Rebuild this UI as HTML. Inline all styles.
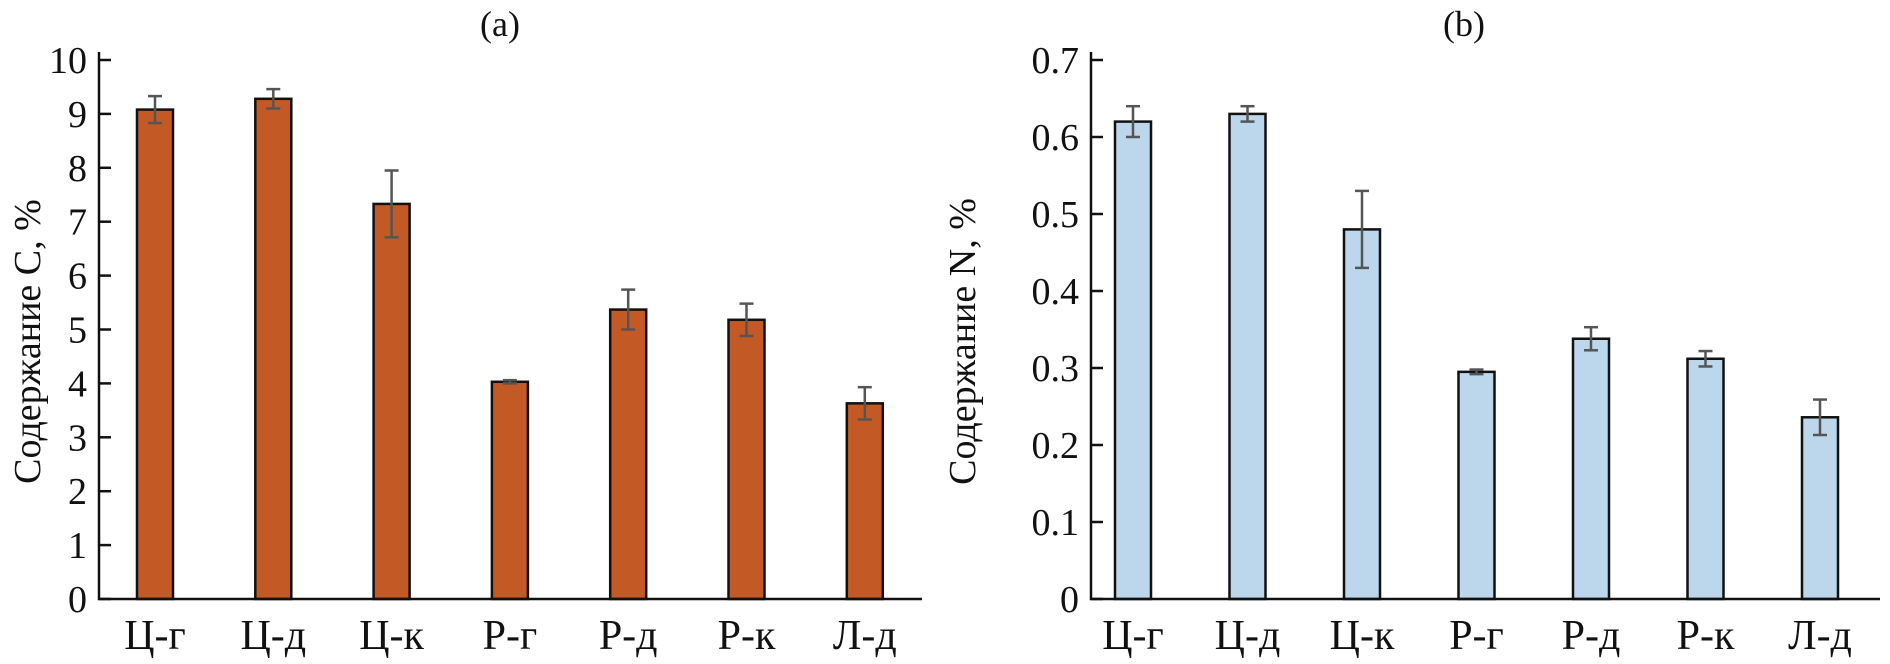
<!DOCTYPE html>
<html><head><meta charset="utf-8"><style>
body{margin:0;background:#fff;}
svg text{font-family:"Liberation Serif",serif;fill:#111;}
</style></head><body>
<svg id="c" width="1890" height="659" xmlns="http://www.w3.org/2000/svg"></svg>
<script>
const categories=["Ц-г","Ц-д","Ц-к","Р-г","Р-д","Р-к","Л-д"];
const carbonValues=[9.08,9.28,7.33,4.03,5.37,5.18,3.63];
const carbonErrors=[0.25,0.18,0.62,0.03,0.37,0.3,0.3];
const nitrogenValues=[0.62,0.63,0.48,0.295,0.338,0.312,0.236];
const nitrogenErrors=[0.02,0.01,0.05,0.003,0.015,0.01,0.023];
const carbonTicks=[0,1,2,3,4,5,6,7,8,9,10];
const nitrogenTicks=[0,0.1,0.2,0.3,0.4,0.5,0.6,0.7];
const NS="http://www.w3.org/2000/svg";
const svg=document.getElementById('c');
function mk(tag,attrs,parent){const e=document.createElementNS(NS,tag);for(const k in attrs)e.setAttribute(k,attrs[k]);(parent||svg).appendChild(e);return e;}
function panel(p){
  const g=mk('g',{});
  
  
  const y=v=>p.y0-(v/p.max)*(p.y0-p.yTop);
  const x=i=>p.c0+i*p.step;
  p.ticks.forEach(t=>{
    const l=mk('line',{x1:p.ax,x2:p.ax+12,y1:y(t),y2:y(t),stroke:'#111','stroke-width':2.5},g);
    
    
    const tx=mk('text',{x:p.ax-12,y:y(t)+13,'text-anchor':'end','font-size':38},g);
    tx.textContent=p.fmt(t);
    
    
  });
  p.vals.forEach((v,i)=>{
    const b=mk('rect',{x:x(i)-18,y:y(v),width:36,height:p.y0-y(v),fill:p.color,stroke:'#111','stroke-width':2.5},g);
    
    
    const e=p.errs[i];
    const eg=mk('g',{stroke:'#555','stroke-width':2.5},g);
    
    
    mk('line',{x1:x(i),x2:x(i),y1:y(v+e),y2:y(v-e)},eg);
    mk('line',{x1:x(i)-7,x2:x(i)+7,y1:y(v+e),y2:y(v+e)},eg);
    mk('line',{x1:x(i)-7,x2:x(i)+7,y1:y(v-e),y2:y(v-e)},eg);
    const cl=mk('text',{x:x(i),y:p.y0+50,'text-anchor':'middle','font-size':42},g);
    cl.textContent=categories[i];
    
    
  });
  const ax=mk('path',{d:`M${p.ax},${p.yTop-8}V${p.y0}H${p.xEnd}`,fill:'none',stroke:'#111','stroke-width':2.5},g);
  
  
  const yt=mk('text',{x:0,y:0,'text-anchor':'middle','font-size':38,transform:`translate(${p.titleX},${(p.y0+p.yTop)/2+12}) rotate(-90)`},g);
  yt.textContent=p.ytitle;
  
  
  const pt=mk('text',{x:p.labelX,y:36,'text-anchor':'middle','font-size':36},g);
  pt.textContent=p.label;
  
  
}
panel({name:'carbon-panel',vals:carbonValues,errs:carbonErrors,ticks:carbonTicks,max:10,ax:99,xEnd:922,y0:599,yTop:60,c0:155,step:118.3,color:'#c35a26',fmt:t=>String(t),ytitle:'Содержание C, %',titleX:40,label:'(a)',labelX:500});
panel({name:'nitrogen-panel',vals:nitrogenValues,errs:nitrogenErrors,ticks:nitrogenTicks,max:0.7,ax:1091,xEnd:1880,y0:599,yTop:60,c0:1133,step:114.5,color:'#bcd7ec',fmt:t=>t===0?'0':t.toFixed(1),ytitle:'Содержание N, %',titleX:975,label:'(b)',labelX:1464});
</script>
</body></html>
